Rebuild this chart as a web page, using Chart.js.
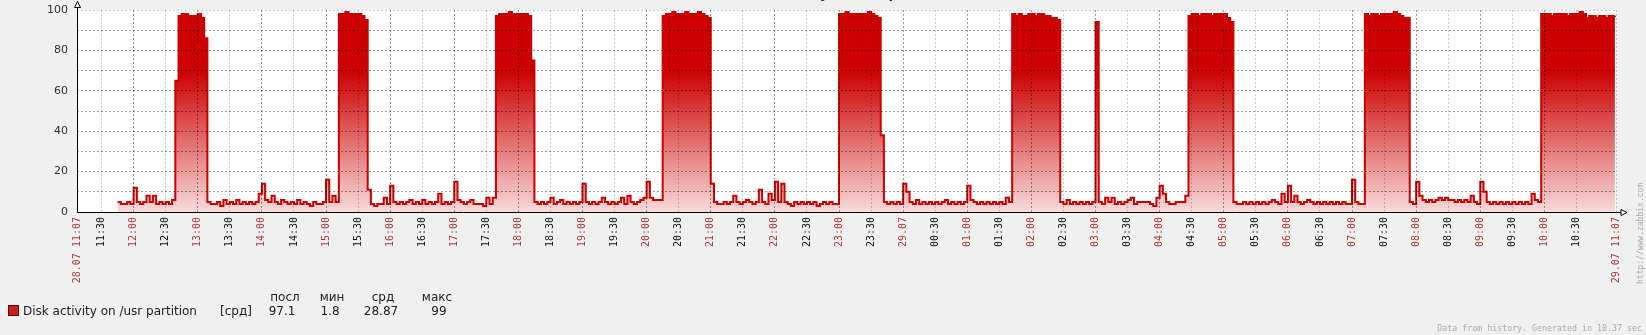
<!DOCTYPE html>
<html>
<head>
<meta charset="utf-8">
<script src="https://cdn.jsdelivr.net/npm/chart.js@4.4.1/dist/chart.umd.min.js"></script>
<style>
  html, body { margin: 0; padding: 0; background: #f0f0f0; overflow: hidden; }
  #wrap { width: 1646px; height: 335px; position: relative; }
</style>
</head>
<body>
<div id="wrap"><canvas id="graph"></canvas></div>
<script>
// period: 28.07 11:07 -> 29.07 11:07, x is minutes from the start
const periodStart = 667;      // 11:07 as minutes of the day
const periodLength = 1440;
const firstSample = 38;       // 11:45
const sampleStep = 3;         // minutes between samples

// one row per clock hour (samples at :00, :03 ... :57)
const usrActivity = [
  5, 4, 4, 5, 4,                                                         // 11:45
  12, 5, 4, 5, 8, 5, 8, 4, 5, 4, 5, 4, 6, 65, 97, 98, 98, 97, 97, 97,   // 12
  98, 96, 86, 5, 4, 4, 5, 3, 6, 4, 5, 4, 6, 4, 5, 4, 5, 4, 5, 9,        // 13
  14, 6, 5, 8, 5, 4, 6, 5, 4, 5, 4, 6, 4, 5, 4, 3, 5, 4, 4, 5,          // 14
  16, 5, 8, 5, 98, 98, 99, 98, 98, 98, 98, 97, 95, 11, 4, 3, 4, 4, 7, 4, // 15
  13, 5, 4, 5, 4, 5, 6, 4, 5, 4, 6, 4, 5, 4, 5, 9, 4, 5, 4, 5,          // 16
  15, 6, 5, 4, 5, 6, 4, 4, 4, 3, 7, 4, 7, 97, 98, 98, 98, 99, 98, 98,   // 17
  98, 98, 98, 97, 75, 5, 4, 5, 4, 5, 7, 4, 5, 6, 4, 5, 4, 5, 4, 5,      // 18
  14, 5, 4, 5, 4, 5, 7, 5, 4, 5, 4, 5, 7, 4, 8, 5, 4, 5, 6, 7,          // 19
  15, 7, 6, 6, 6, 97, 98, 98, 99, 98, 98, 98, 99, 98, 98, 98, 99, 98, 97, 96, // 20
  14, 5, 4, 4, 5, 4, 5, 8, 5, 4, 5, 6, 5, 4, 5, 11, 5, 4, 9, 6,         // 21
  15, 5, 14, 5, 4, 3, 5, 4, 5, 4, 5, 4, 5, 3, 4, 5, 4, 5, 4, 4,         // 22
  98, 98, 99, 98, 98, 98, 98, 98, 98, 99, 98, 97, 96, 38, 5, 4, 5, 4, 5, 4, // 23
  14, 10, 5, 4, 6, 4, 5, 4, 5, 4, 5, 4, 5, 6, 4, 5, 4, 5, 4, 5,         // 00
  13, 6, 5, 4, 5, 4, 5, 4, 5, 4, 5, 4, 7, 5, 98, 97, 98, 97, 97, 98,    // 01
  98, 97, 98, 98, 97, 97, 96, 96, 95, 5, 4, 6, 4, 5, 4, 5, 4, 5, 4, 5,  // 02
  94, 5, 4, 7, 5, 7, 4, 5, 4, 5, 6, 7, 4, 5, 5, 5, 5, 4, 3, 7,          // 03
  13, 9, 5, 4, 4, 5, 5, 5, 8, 97, 98, 98, 97, 98, 98, 98, 97, 98, 98, 98, // 04
  98, 96, 94, 5, 4, 4, 5, 4, 5, 4, 5, 4, 5, 4, 5, 6, 5, 4, 9, 5,        // 05
  13, 5, 8, 5, 4, 5, 6, 5, 4, 5, 4, 5, 4, 5, 4, 5, 4, 5, 4, 4,          // 06
  16, 5, 4, 4, 98, 97, 98, 98, 97, 98, 98, 98, 98, 99, 98, 97, 96, 96, 5, 4, // 07
  15, 8, 6, 5, 6, 5, 6, 7, 6, 7, 6, 6, 5, 6, 5, 6, 5, 8, 5, 4,          // 08
  15, 10, 5, 4, 5, 4, 5, 4, 5, 4, 5, 4, 5, 4, 5, 4, 9, 6, 5, 98,        // 09
  98, 98, 97, 98, 98, 98, 98, 97, 98, 98, 98, 99, 98, 96, 97, 97, 96, 97, 97, 96, // 10
  97, 97, 97.1                                                           // 11
];

const itemName = "Disk activity on /usr partition";
const itemFunc = "[срд]";
const statHeaders = ["посл", "мин", "срд", "макс"];
const statValues = ["97.1", "1.8", "28.87", "99"];
const graphTitle = "Disk activity on /usr partition";
const footerText = "Data from history. Generated in 10.37 sec";
const siteText = "http://www.zabbix.com";

const lineColor = "#cc0000";
const hourLabelColor = "#a83a3a";

const points = usrActivity.map((v, i) => ({ x: firstSample + i * sampleStep, y: v }));

function clockOf(t) {
  return (periodStart + t) % 1440;
}

function tickLabel(t) {
  if (t === 0) return "28.07 11:07";
  if (t === periodLength) return "29.07 11:07";
  const c = clockOf(t);
  if (c === 0) return "29.07";
  const h = Math.floor(c / 60), m = c % 60;
  return String(h).padStart(2, "0") + ":" + String(m).padStart(2, "0");
}

function isRedTick(t) {
  return t === 0 || t === periodLength || clockOf(t) % 60 === 0;
}

// half-hour ticks, skipping the ones that would collide with the end label
const xTicks = [0];
for (let t = 1; t < periodLength - 10; t++) {
  if (clockOf(t) % 30 === 0) xTicks.push(t);
}
xTicks.push(periodLength);

function fillGradient(context) {
  const area = context.chart.chartArea;
  if (!area) return "rgba(204,0,0,0.4)";
  const g = context.chart.ctx.createLinearGradient(0, area.top, 0, area.bottom);
  g.addColorStop(0, "#cc0000");
  g.addColorStop(0.3, "#cc0000");
  g.addColorStop(1, "#f8dada");
  return g;
}

const zabbixFrame = {
  id: "zabbixFrame",
  beforeDraw(chart) {
    const { ctx, chartArea: a } = chart;
    ctx.save();
    ctx.fillStyle = "#f0f0f0";
    ctx.fillRect(0, 0, chart.width, chart.height);
    ctx.fillStyle = "#ffffff";
    ctx.fillRect(a.left, a.top, a.right - a.left, a.bottom - a.top);
    ctx.restore();
  },
  afterDraw(chart) {
    const { ctx, chartArea: a } = chart;
    ctx.save();

    // axes with arrows
    const x0 = Math.round(a.left) + 0.5;
    const y0 = Math.round(a.bottom) + 0.5;
    ctx.strokeStyle = "#000";
    ctx.lineWidth = 1;
    ctx.beginPath();
    ctx.moveTo(x0, y0);
    ctx.lineTo(x0, a.top - 4);
    ctx.moveTo(x0, y0);
    ctx.lineTo(a.right + 5, y0);
    ctx.stroke();
    ctx.fillStyle = "#fff";
    ctx.beginPath();
    ctx.moveTo(x0, 1.5);
    ctx.lineTo(x0 - 3, 7.5);
    ctx.lineTo(x0 + 3, 7.5);
    ctx.closePath();
    ctx.fill();
    ctx.stroke();
    ctx.beginPath();
    ctx.moveTo(a.right + 11, y0);
    ctx.lineTo(a.right + 5, y0 - 3);
    ctx.lineTo(a.right + 5, y0 + 3);
    ctx.closePath();
    ctx.fill();
    ctx.stroke();

    // title, cut off at the top edge like in the original
    ctx.fillStyle = "#222";
    ctx.font = "bold 13px 'DejaVu Sans'";
    ctx.textAlign = "left";
    ctx.textBaseline = "alphabetic";
    const tx = 820 - ctx.measureText("Disk activit").width;
    ctx.fillText(graphTitle, tx, -2);

    // legend
    ctx.fillStyle = "#d01c1c";
    ctx.fillRect(8.5, 305.5, 10, 10);
    ctx.strokeStyle = "#5a0a0a";
    ctx.strokeRect(8.5, 305.5, 10, 10);
    ctx.fillStyle = "#222";
    ctx.font = "12px 'DejaVu Sans'";
    ctx.textBaseline = "alphabetic";
    ctx.textAlign = "left";
    ctx.fillText(itemName, 23, 315);
    ctx.fillText(itemFunc, 220, 315);
    const headerX = [285, 332, 383, 437];
    const valueX = [282, 330, 381, 439];
    ctx.textAlign = "center";
    statHeaders.forEach((h, i) => ctx.fillText(h, headerX[i], 301));
    statValues.forEach((v, i) => ctx.fillText(v, valueX[i], 315));

    // footer and site link
    ctx.fillStyle = "#aaaaaa";
    ctx.font = "8.3px 'DejaVu Sans Mono'";
    ctx.textAlign = "right";
    ctx.textBaseline = "middle";
    ctx.fillText(footerText, 1642, 329);
    ctx.translate(1641, 284);
    ctx.rotate(-Math.PI / 2);
    ctx.textAlign = "left";
    ctx.font = "8px 'DejaVu Sans Mono'";
    ctx.fillText(siteText, 0, 0);
    ctx.restore();
  }
};

new Chart(document.getElementById("graph"), {
  type: "line",
  data: {
    datasets: [{
      label: itemName,
      data: points,
      stepped: true,
      borderColor: lineColor,
      borderWidth: 2,
      pointRadius: 0,
      fill: "origin",
      backgroundColor: fillGradient
    }]
  },
  options: {
    responsive: true,
    maintainAspectRatio: false,
    devicePixelRatio: 1,
    animation: false,
    layout: { padding: { left: 0, top: 10, right: 30, bottom: 0 } },
    plugins: {
      legend: { display: false },
      tooltip: { enabled: false },
      title: { display: false }
    },
    scales: {
      x: {
        type: "linear",
        min: 0,
        max: periodLength,
        afterBuildTicks(scale) {
          scale.ticks = xTicks.map(v => ({ value: v }));
        },
        afterFit(scale) { scale.height = 123; },
        grid: {
          z: 1,
          drawTicks: false,
          color: ctx => {
            const t = ctx.tick && ctx.tick.value;
            if (t === periodLength) return "rgba(0,0,0,0.2)";
            return clockOf(t) % 60 === 0 ? "rgba(0,0,0,0.4)" : "rgba(0,0,0,0.2)";
          }
        },
        border: { display: false, dash: [2, 2] },
        ticks: {
          autoSkip: false,
          minRotation: 90,
          maxRotation: 90,
          padding: 5,
          font: { family: "'DejaVu Sans Mono'", size: 10 },
          color: ctx => isRedTick(ctx.tick.value) ? hourLabelColor : "#111",
          callback: v => tickLabel(v)
        }
      },
      y: {
        min: 0,
        max: 100,
        afterFit(scale) {
          scale.width = 77;
          scale.paddingTop = 0;
        },
        grid: {
          z: 1,
          drawTicks: false,
          color: ctx => ctx.tick && ctx.tick.value === 100 ? "rgba(0,0,0,0.2)" : "rgba(0,0,0,0.4)"
        },
        border: { display: false, dash: [2, 2] },
        ticks: {
          stepSize: 10,
          padding: 9,
          font: { family: "'DejaVu Sans'", size: 11 },
          color: "#333",
          callback: v => (v % 20 === 0 ? String(v) : "")
        }
      }
    }
  },
  plugins: [zabbixFrame]
});
</script>
</body>
</html>
